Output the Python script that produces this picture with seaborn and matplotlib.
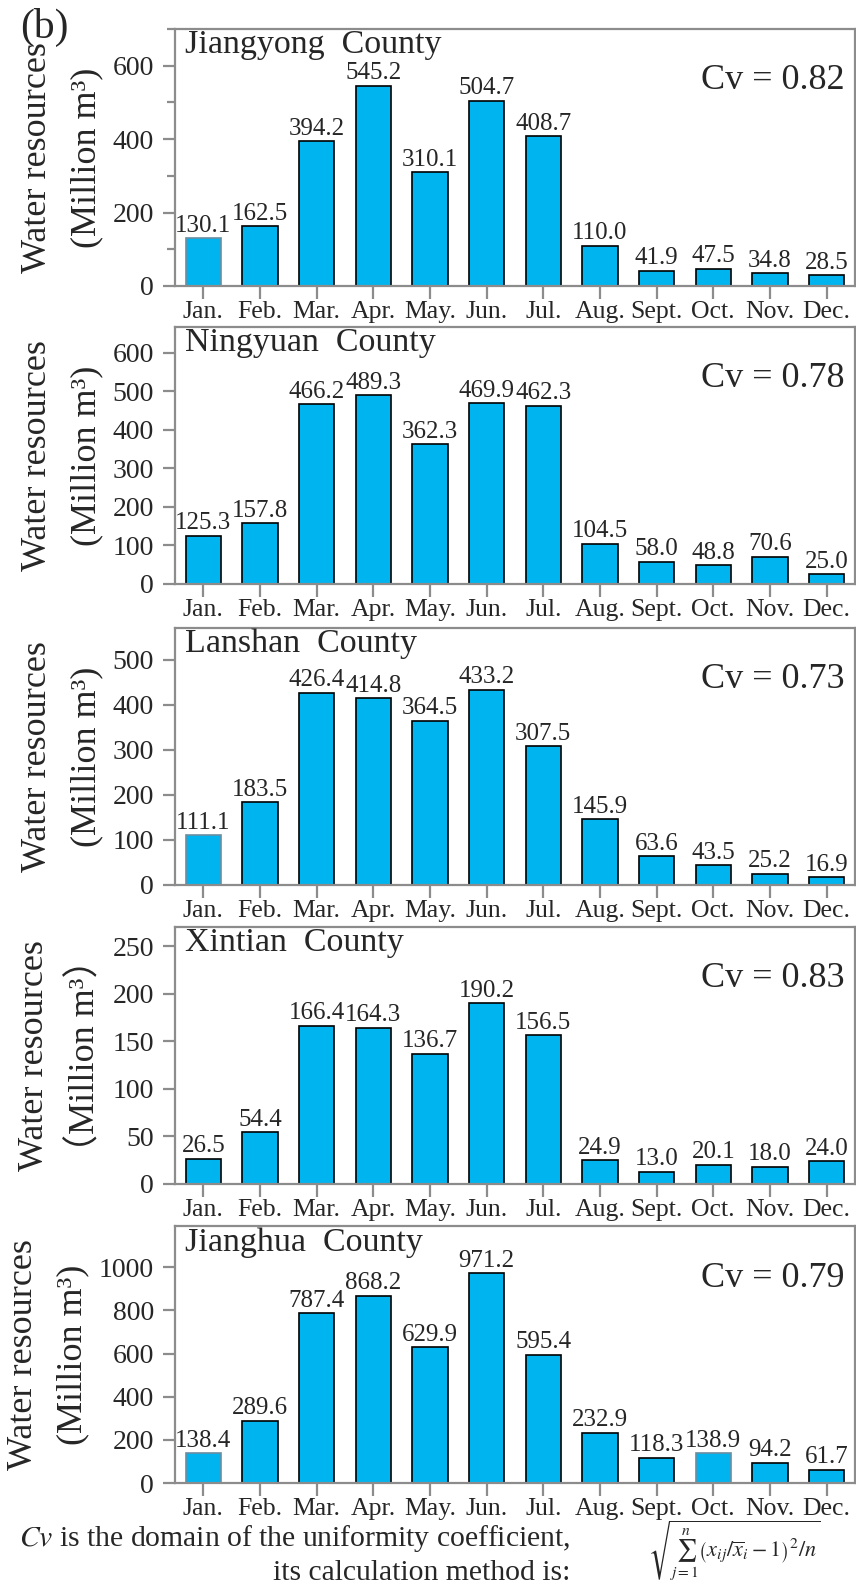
import numpy as np
import pandas as pd
import seaborn as sns
import matplotlib.pyplot as plt
from matplotlib.ticker import MultipleLocator

months = ["Jan.", "Feb.", "Mar.", "Apr.", "May.", "Jun.", "Jul.", "Aug.", "Sept.", "Oct.", "Nov.", "Dec."]
counties = ["Jiangyong", "Ningyuan", "Lanshan", "Xintian", "Jianghua"]
jiangyong = [130.1, 162.5, 394.2, 545.2, 310.1, 504.7, 408.7, 110.0, 41.9, 47.5, 34.8, 28.5]
ningyuan = [125.3, 157.8, 466.2, 489.3, 362.3, 469.9, 462.3, 104.5, 58.0, 48.8, 70.6, 25.0]
lanshan = [111.1, 183.5, 426.4, 414.8, 364.5, 433.2, 307.5, 145.9, 63.6, 43.5, 25.2, 16.9]
xintian = [26.5, 54.4, 166.4, 164.3, 136.7, 190.2, 156.5, 24.9, 13.0, 20.1, 18.0, 24.0]
jianghua = [138.4, 289.6, 787.4, 868.2, 629.9, 971.2, 595.4, 232.9, 118.3, 138.9, 94.2, 61.7]
cv_values = [0.82, 0.78, 0.73, 0.83, 0.79]
ylims = [700, 667, 570, 270, 1190]
ysteps = [200, 100, 100, 50, 200]
# bars drawn with a faint outline in the original (panel, month)
light_edges = [(0, 0), (2, 0), (4, 0), (4, 9)]

sns.set_style("ticks")
plt.rcParams['font.family'] = ['Liberation Serif', 'DejaVu Serif']
plt.rcParams['mathtext.fontset'] = 'stix'

spinecol = '#8c8c8c'
barcol = '#00b5ef'

fig = plt.figure(figsize=(8.56, 15.86), dpi=100)
bottoms = [0.8197, 0.6318, 0.4420, 0.2535, 0.0649]
series = [jiangyong, ningyuan, lanshan, xintian, jianghua]

for i, (name, vals) in enumerate(zip(counties, series)):
    ax = fig.add_axes([0.2044, bottoms[i], 0.7944, 0.162])
    df = pd.DataFrame({"month": months, "value": vals})
    sns.barplot(data=df, x="month", y="value", ax=ax, color=barcol, saturation=1,
                edgecolor='black', linewidth=1.2, width=0.62)
    for p, m in light_edges:
        if p == i:
            ax.patches[m].set_edgecolor('#6a8ea0')
    ax.bar_label(ax.containers[0], fmt='%.1f', fontsize=18, padding=1)
    ax.set_xlim(-0.5, 11.5)
    ax.set_ylim(0, ylims[i])
    ax.yaxis.set_major_locator(MultipleLocator(ysteps[i]))
    if i == 0:
        ax.yaxis.set_minor_locator(MultipleLocator(100))
        ax.tick_params(axis='y', which='minor', length=6, width=1.6, color=spinecol)
    ax.set_xlabel("")
    if i == 3:
        ax.set_ylabel("Water resources\n（Million m³）", fontsize=26, labelpad=7,
                      linespacing=1.65, family=['Liberation Serif', 'Noto Sans CJK SC'])
    else:
        ax.set_ylabel("Water resources\n(Million m³)", fontsize=26, labelpad=7, linespacing=1.65)
    for sp in ax.spines.values():
        sp.set_color(spinecol)
        sp.set_linewidth(1.6)
    ax.tick_params(axis='both', which='major', length=9, width=1.6, color=spinecol)
    ax.tick_params(axis='x', labelsize=18.5, pad=2)
    ax.tick_params(axis='y', labelsize=20, pad=6)
    ax.text(0.015, 0.905, name + "  County", transform=ax.transAxes, fontsize=24.5,
            ha='left', va='baseline')
    ax.text(0.985, 0.765, "Cv = %.2f" % cv_values[i], transform=ax.transAxes, fontsize=26,
            ha='right', va='baseline')

fig.text(0.023, 0.976, "(b)", fontsize=30, ha='left', va='baseline')
fig.text(0.666, 0.0300, r"$Cv$ is the domain of the uniformity coefficient,", fontsize=21.3,
         ha='right', va='center')
fig.text(0.666, 0.0085, "its calculation method is:", fontsize=21.3, ha='right', va='center')
fig.text(0.858, 0.002, r"$\sqrt{\sum_{j=1}^{n}\left(x_{ij}/\overline{x}_{i}-1\right)^{2}/n}$",
         fontsize=16, ha='center', va='bottom')

fig.savefig("out.png", dpi=100)
